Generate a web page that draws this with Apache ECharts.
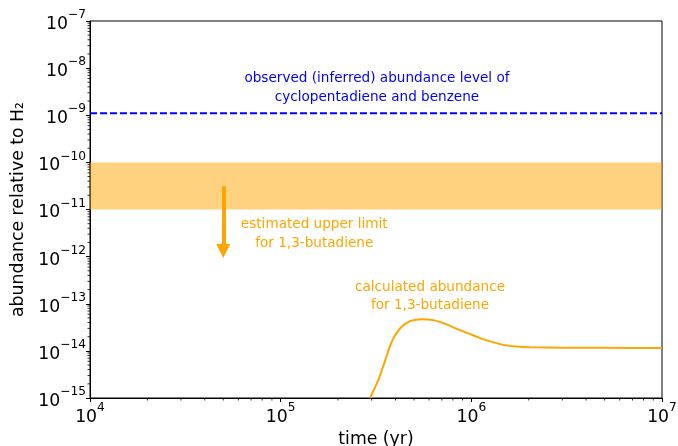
<!DOCTYPE html>
<html>
<head>
<meta charset="utf-8">
<script src="https://cdn.jsdelivr.net/npm/echarts@6/dist/echarts.min.js"></script>
<style>html,body{margin:0;padding:0;background:#fff}#c{width:678px;height:446px}</style>
</head>
<body>
<div id="c"></div>
<script>
// ---- data ----
const xRange = [1e4, 1e7];
const yRange = [1e-15, 1e-7];
const observedLevel = 1.1e-9;              // blue dashed line
const upperLimitBand = [1e-11, 1e-10];     // orange shaded band
const arrowX = 5e4;
const arrowFromTo = [3.1e-11, 1.31e-12];
const curveTime = [2.94e5, 3.25e5, 3.52e5, 3.74e5, 3.97e5, 4.31e5, 4.77e5, 5.49e5, 6.31e5, 7.42e5, 8.71e5, 1.02e6, 1.16e6, 1.47e6, 1.73e6, 2.03e6, 3e6, 5e6, 1e7];
const curveAbund = [1.0e-15, 2.4e-15, 6.0e-15, 1.25e-14, 2.1e-14, 3.24e-14, 4.28e-14, 4.71e-14, 4.49e-14, 3.64e-14, 2.75e-14, 2.15e-14, 1.75e-14, 1.34e-14, 1.24e-14, 1.2e-14, 1.17e-14, 1.16e-14, 1.15e-14];
const noteTexts = ['observed (inferred) abundance level of\ncyclopentadiene and benzene', 'estimated upper limit\nfor 1,3-butadiene', 'calculated abundance\nfor 1,3-butadiene'];
const noteAnchors = [[3.2e5, 3.8e-9], [1.5e5, 3.0e-12], [6.07e5, 1.44e-13]];
const xTickExps = [4, 5, 6, 7];
const yTickExps = [-15, -14, -13, -12, -11, -10, -9, -8, -7];

// minor tick positions (2..9 x 10^k)
const xMinor = [], yMinor = [];
for (let k = 4; k < 7; k++) for (let m = 2; m <= 9; m++) xMinor.push(m * Math.pow(10, k));
for (let k = -15; k < -7; k++) for (let m = 2; m <= 9; m++) yMinor.push(m * Math.pow(10, k));

const FONT = 'DejaVu Sans';
const BLUE = '#0000ff', ORANGE = '#ffa500';
function expLabel(v) {
  const e = Math.round(Math.log10(v));
  return '{b|10}{s|' + String(e).replace('-', '\u2212') + '}';
}
const tickRich = {
  b: {fontSize: 17.3, fontFamily: FONT, color: '#000', verticalAlign: 'bottom', lineHeight: 24},
  s: {fontSize: 12.2, fontFamily: FONT, color: '#000', verticalAlign: 'top'}
};

const chart = echarts.init(document.getElementById('c'));
chart.setOption({
  animation: false,
  grid: {left: 90, right: 16, top: 21, bottom: 48, outerBoundsMode: 'none', containLabel: false,
    show: true, borderColor: '#000', borderWidth: 1, backgroundColor: 'transparent'},
  xAxis: {
    type: 'log', logBase: 10, min: xRange[0], max: xRange[1],
    name: 'time (yr)', nameLocation: 'middle', nameGap: 30,
    nameTextStyle: {fontSize: 17.3, fontFamily: FONT, color: '#000'},
    axisLine: {lineStyle: {color: '#000', width: 1}},
    axisTick: {length: 4, lineStyle: {color: '#000', width: 1}},
    axisLabel: {margin: 4, formatter: expLabel, rich: tickRich},
    splitLine: {show: false}
  },
  yAxis: {
    type: 'log', logBase: 10, min: yRange[0], max: yRange[1],
    name: 'abundance relative to H\u2082', nameLocation: 'middle', nameGap: 49, nameRotate: 90,
    nameTextStyle: {fontSize: 17.3, fontFamily: FONT, color: '#000'},
    axisLine: {lineStyle: {color: '#000', width: 1}},
    axisTick: {length: 4, lineStyle: {color: '#000', width: 1}},
    axisLabel: {margin: 4, formatter: expLabel, rich: tickRich},
    splitLine: {show: false}
  },
  series: [
    {
      type: 'line', name: 'observed', silent: true,
      data: [[xRange[0], observedLevel], [xRange[1], observedLevel]],
      symbol: 'none', z: 3,
      lineStyle: {color: BLUE, width: 2, type: [7, 3]},
      markArea: {silent: true, itemStyle: {color: 'rgba(255,165,0,0.5)'},
        data: [[{yAxis: upperLimitBand[0]}, {yAxis: upperLimitBand[1]}]]}
    },
    {
      type: 'line', name: 'calculated', silent: true,
      data: curveTime.map((t, i) => [t, curveAbund[i]]),
      symbol: 'none', smooth: 0.25, z: 4,
      lineStyle: {color: ORANGE, width: 2}
    },
    {
      type: 'lines', coordinateSystem: 'cartesian2d', silent: true, z: 5,
      data: [{coords: [[arrowX, arrowFromTo[0]], [arrowX, arrowFromTo[1]]]}],
      symbol: ['none', 'triangle'], symbolSize: [0, [14, 14]],
      lineStyle: {color: ORANGE, width: 4, opacity: 1, cap: 'butt'},
      itemStyle: {color: ORANGE}
    },
    {
      type: 'scatter', silent: true, symbolSize: 1, z: 6,
      itemStyle: {color: 'transparent'},
      data: noteAnchors.map((p, i) => ({value: p, label: {color: i === 0 ? BLUE : ORANGE}})),
      label: {show: true, position: 'inside', align: 'center', verticalAlign: 'middle',
        fontSize: 13.6, fontFamily: FONT, lineHeight: 18.5, opacity: 1,
        textBorderWidth: 0, textBorderColor: 'transparent',
        formatter: p => noteTexts[p.dataIndex]}
    },
    {
      type: 'custom', silent: true, clip: false, z: 7,
      data: xMinor.map(v => [v, yRange[0]]),
      renderItem: (params, api) => {
        const p = api.coord([api.value(0), api.value(1)]);
        return {type: 'line', shape: {x1: p[0], y1: p[1], x2: p[0], y2: p[1] + 2.5}, style: {stroke: '#000', lineWidth: 0.8}};
      }
    },
    {
      type: 'custom', silent: true, clip: false, z: 7,
      data: yMinor.map(v => [xRange[0], v]),
      renderItem: (params, api) => {
        const p = api.coord([api.value(0), api.value(1)]);
        return {type: 'line', shape: {x1: p[0] - 2.5, y1: p[1], x2: p[0], y2: p[1]}, style: {stroke: '#000', lineWidth: 0.8}};
      }
    }
  ]
});
</script>
</body>
</html>
